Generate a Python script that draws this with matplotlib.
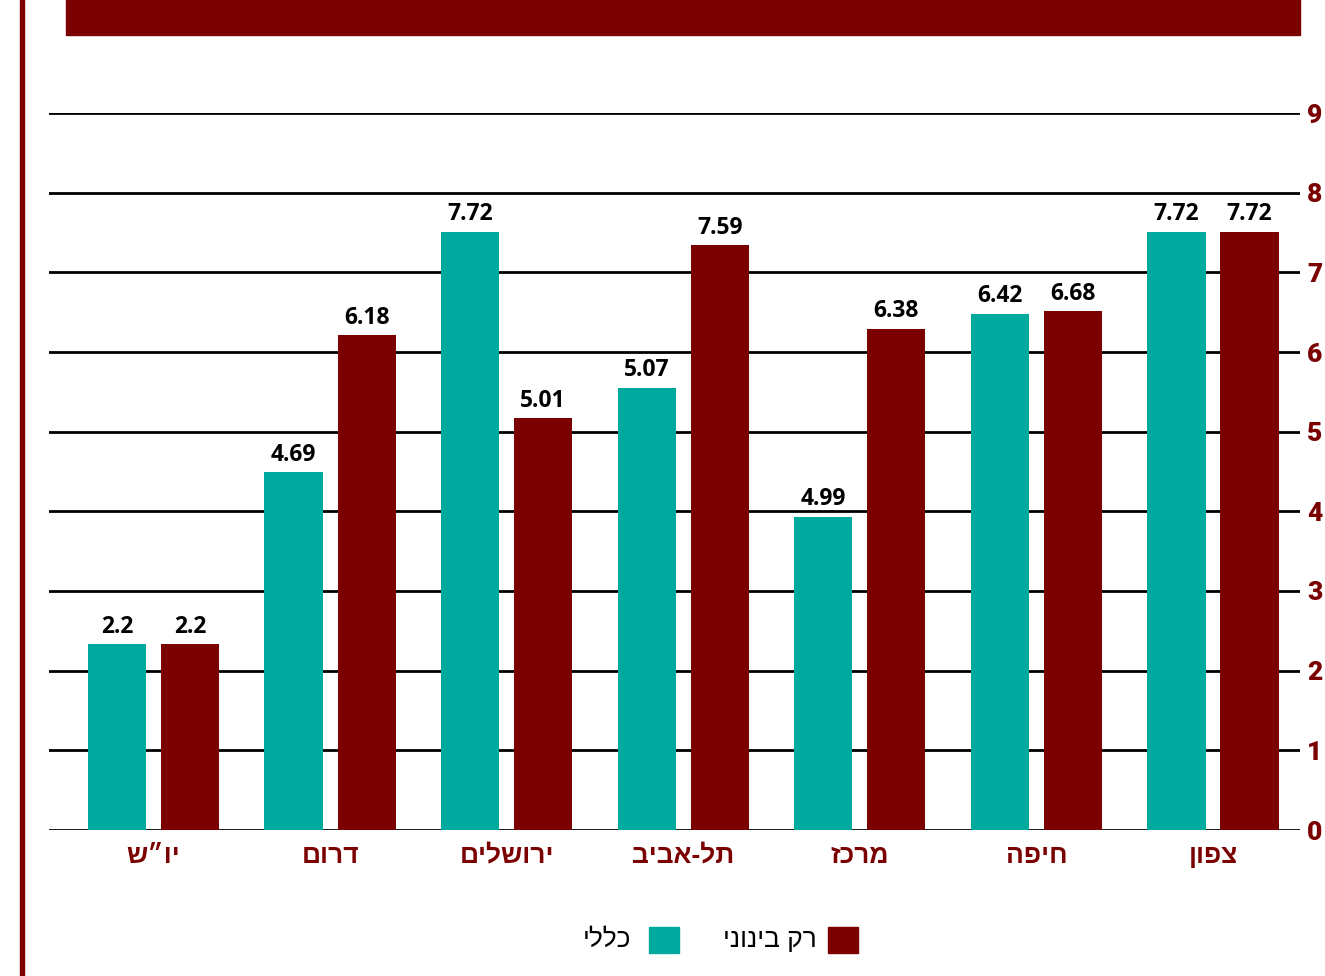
import numpy as np
import matplotlib.pyplot as plt
from matplotlib.patches import Rectangle

# data (bar heights as drawn, labels as printed)
regions = ['יו״ש', 'דרום', 'ירושלים', 'תל-אביב', 'מרכז', 'חיפה', 'צפון']
general_h = [2.33, 4.49, 7.51, 5.55, 3.93, 6.48, 7.51]
middle_h = [2.33, 6.21, 5.17, 7.34, 6.29, 6.51, 7.51]
general_lbl = ['2.2', '4.69', '7.72', '5.07', '4.99', '6.42', '7.72']
middle_lbl = ['2.2', '6.18', '5.01', '7.59', '6.38', '6.68', '7.72']
yticks = list(range(0, 10))
legend_names = ['רק בינוני', 'כללי']

TEAL = '#00A99D'
RED = '#7B0000'
FONTS = ['Open Sans', 'DejaVu Sans']
HEB = ['Liberation Sans', 'DejaVu Sans']

def rtl(s):
    # matplotlib has no bidi support, flip hebrew for display
    return s[::-1]

plt.rcParams['font.family'] = FONTS

fig = plt.figure(figsize=(13.25, 9.76), dpi=100)
ax = fig.add_axes([49/1325, 146/976, 1251/1325, 717/976])

x = np.arange(len(regions))
w = 0.33
off = 0.207
b1 = ax.bar(x - off, general_h, w, color=TEAL, zorder=3)
b2 = ax.bar(x + off, middle_h, w, color=RED, zorder=3)

for bars, lbls in [(b1, general_lbl), (b2, middle_lbl)]:
    for b, t in zip(bars, lbls):
        ax.annotate(t, (b.get_x() + b.get_width()/2, b.get_height()),
                    xytext=(0, 4), textcoords='offset points',
                    ha='center', va='bottom', fontsize=16.5,
                    fontweight='bold', color='black')

ax.set_xlim(-0.592, 6.493)
ax.set_ylim(0, 9)
ax.set_yticks(yticks)
ax.set_yticklabels([str(v) for v in yticks], family=['Roboto', 'DejaVu Sans'],
                   fontweight='black', fontsize=19, color=RED)
ax.yaxis.tick_right()
ax.tick_params(axis='y', length=0, pad=5)
ax.set_xticks(x)
ax.set_xticklabels([rtl(r) for r in regions], fontsize=19, color=RED,
                   family=HEB, fontweight='bold')
ax.tick_params(axis='x', length=0, pad=10)
ax.grid(axis='y', color='black', linewidth=2, zorder=1)
for s in ax.spines.values():
    s.set_visible(False)

# legend drawn in figure coords, right to left
fig.patches.append(Rectangle((828/1325, (976-953)/976), 30/1325, 26/976,
                             transform=fig.transFigure, color=RED))
fig.text(817/1325, (976-940)/976, rtl(legend_names[0]), ha='right', va='center',
         fontsize=19, color='black', family=HEB)
fig.patches.append(Rectangle((649/1325, (976-953)/976), 30/1325, 26/976,
                             transform=fig.transFigure, color=TEAL))
fig.text(631/1325, (976-940)/976, rtl(legend_names[1]), ha='right', va='center',
         fontsize=19, color='black', family=HEB)

# title bar (cut off at top) and left rule
fig.patches.append(Rectangle((66/1325, (976-35)/976), 1234/1325, 35/976,
                             transform=fig.transFigure, color=RED))
fig.patches.append(Rectangle((20/1325, 0), 4/1325, 1,
                             transform=fig.transFigure, color=RED))

fig.savefig('out.png', dpi=100)
